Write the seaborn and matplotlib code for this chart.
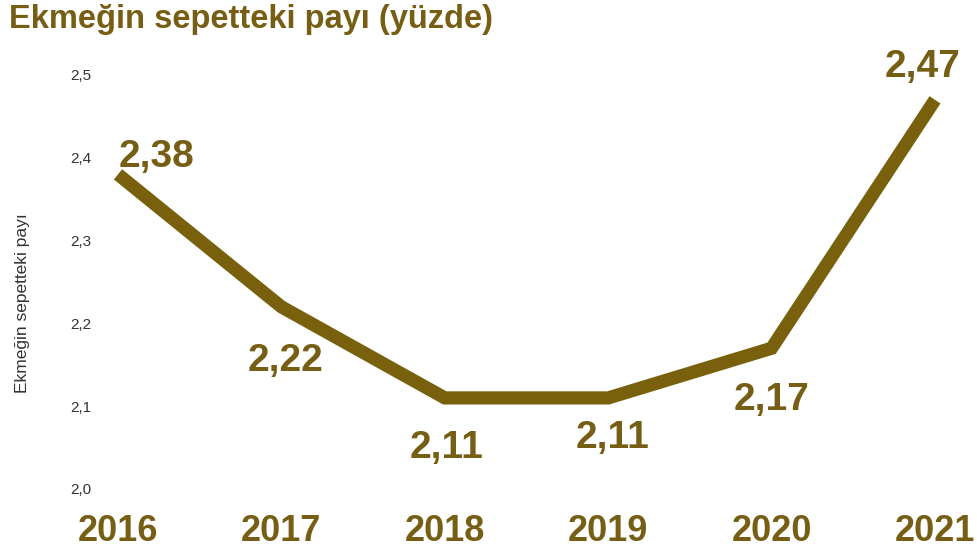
import matplotlib
matplotlib.use("Agg")
import matplotlib.pyplot as plt
import seaborn as sns
import pandas as pd

sns.set_style("white")
plt.rcParams["font.family"] = ["Liberation Sans", "DejaVu Sans"]

GOLD = "#78600c"
TEXT_GOLD = "#765f14"

# ── Data ──────────────────────────────────────────────────────────────────────
years = [2016, 2017, 2018, 2019, 2020, 2021]
share = [2.38, 2.22, 2.11, 2.11, 2.17, 2.47]
value_labels = ["2,38", "2,22", "2,11", "2,11", "2,17", "2,47"]
y_ticks = [2.0, 2.1, 2.2, 2.3, 2.4, 2.5]
y_tick_labels = ["2,0", "2,1", "2,2", "2,3", "2,4", "2,5"]

df = pd.DataFrame({"year": years, "share": share})

# label offsets in pixels (dx, dy)
offsets = [(38, 17), (4, -54), (2, -50), (4, -40), (0, -52), (-12, 33)]

fig = plt.figure(figsize=(9.78, 5.55), dpi=100)
ax = fig.add_axes([118 / 978, 1 - 489 / 555, (935 - 118) / 978, (489 - 75) / 555])

sns.lineplot(data=df, x="year", y="share", ax=ax, color=GOLD,
             linewidth=9.5, solid_joinstyle="miter", solid_capstyle="butt",
             clip_on=False)

for yr, val, lab, (dx, dy) in zip(years, share, value_labels, offsets):
    ax.annotate(lab, (yr, val), textcoords="offset pixels", xytext=(dx, dy),
                ha="center", va="center", fontsize=28, fontweight="bold",
                color=TEXT_GOLD, annotation_clip=False)

ax.set_xlim(2016, 2021)
ax.set_ylim(2.0, 2.5)
ax.set_xticks(years)
ax.set_xticklabels([str(y) for y in years], fontsize=26, fontweight="bold",
                   color=TEXT_GOLD)
ax.set_yticks(y_ticks)
ax.set_yticklabels(y_tick_labels, fontsize=11, color="#333333")
ax.tick_params(axis="x", length=0, pad=18)
ax.tick_params(axis="y", length=0, pad=19)
ax.set_xlabel("")
ax.set_ylabel("")
for s in ax.spines.values():
    s.set_visible(False)

fig.text(23 / 978, 1 - 303 / 555, "Ekmeğin sepetteki payı", rotation=90,
         ha="center", va="center", fontsize=12.5, color="#333333")

fig.text(9 / 978, 1 - 4 / 555, "Ekmeğin sepetteki payı (yüzde)",
         ha="left", va="top", fontsize=23.5, fontweight="bold", color=TEXT_GOLD)

fig.savefig("out.png", dpi=100, facecolor="white")
